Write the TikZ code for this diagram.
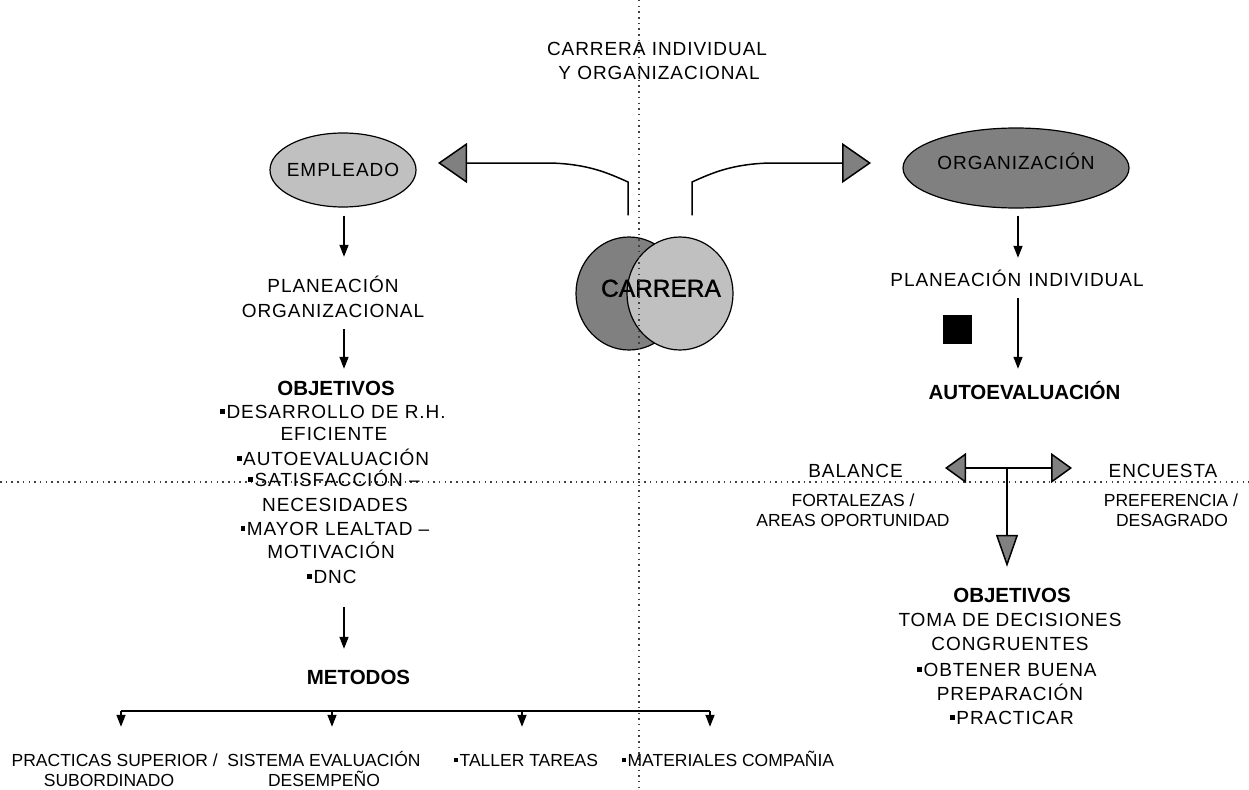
\documentclass[tikz,border=0pt]{standalone}
\usepackage{fontspec}
\setmainfont{Liberation Sans}[LetterSpace=5]
\newfontfamily\plainsans{Liberation Sans}
\newfontfamily\heavysans{Liberation Sans}[FakeBold=1.2]
\usetikzlibrary{arrows.meta,shapes.geometric}

\definecolor{grisoscuro}{HTML}{808080}
\definecolor{grisclaro}{HTML}{C0C0C0}

\newcommand\fmain{\fontsize{19}{23}\selectfont}
\newcommand\fbold{\plainsans\bfseries\fontsize{20.5}{24}\selectfont}
\newcommand\fsmall{\plainsans\fontsize{17.5}{20}\selectfont}
\newcommand\fbig{\heavysans\fontsize{24.5}{28}\selectfont}
% small square bullet
\newcommand\cuad{\rule[4.5pt]{4.7pt}{4.7pt}\hspace{1.5pt}}
\newcommand\cuadp{\rule[4pt]{4.2pt}{4.2pt}\hspace{1.5pt}}

\tikzset{
  txt/.style={font=\fmain, inner sep=0pt, text height=13.6pt, text depth=0pt, anchor=base},
  bld/.style={font=\fbold, inner sep=0pt, text height=14.7pt, text depth=0pt, anchor=base},
  sml/.style={font=\fsmall, inner sep=0pt, text height=12.5pt, text depth=0pt, anchor=base},
  big/.style={font=\fbig, inner sep=0pt, text height=17.5pt, text depth=0pt},
  blob/.style={ellipse, draw, line width=1.2pt, inner sep=0pt},
  link/.style={line width=1.5pt, -{Triangle[width=9pt,length=12pt]}},
  bar/.style={line width=1.5pt},
  bigtip/.style={line width=1.5pt, -{Triangle[width=40pt,length=29pt,fill=grisoscuro]}},
  midtip/.style={line width=1.5pt, -{Triangle[width=30pt,length=21pt,fill=grisoscuro]}},
  downtip/.style={line width=1.5pt, -{Triangle[width=22pt,length=32pt,fill=grisoscuro]}},
  dotline/.style={line width=1.5pt, black!75, dash pattern=on 1.5pt off 4.2pt},
}

\begin{document}
\begin{tikzpicture}[x=1pt, y=-1pt]
\fill[white] (0,0) rectangle (1249,789);
\useasboundingbox (0,0) rectangle (1249,789);

% title
\node[txt] (tit1) at (657,55.8) {CARRERA INDIVIDUAL};
\node[txt] (tit2) at (659,79.3) {Y ORGANIZACIONAL};

% central circles
\node[blob, fill=grisoscuro, minimum width=106pt, minimum height=113pt] (cizq) at (629,293.5) {};
\node[blob, fill=grisclaro, minimum width=106pt, minimum height=113pt] (cder) at (680,293.5) {};
\node[big] (carr) at (661,288) {CARRERA};

% ellipses
\node[blob, fill=grisclaro, minimum width=146pt, minimum height=74pt] (emp) at (343,170) {};
\node[txt, anchor=center] (empT) at (emp) {EMPLEADO};
\node[blob, fill=grisoscuro, minimum width=226pt, minimum height=80pt] (org) at (1016,168) {};
\node[txt, anchor=base] (orgT) at (1016,169) {ORGANIZACIÓN};

% separator lines
\draw[dotline] (639,0) -- (639,789);
\draw[dotline] (0,482) -- (1249,482);

% branches from the circles
\coordinate (tipEmp) at (438,163);
\coordinate (tipOrg) at (871,163);
\draw[bigtip] ([xshift=-1pt,yshift=21pt]cizq.north) -- (628,182)
  .. controls (608,173) and (588,164) .. (550,163) -- (tipEmp);
\draw[bigtip] ([xshift=12pt,yshift=21pt]cder.north) -- (692,182)
  .. controls (712,173) and (732,164) .. (770,163) -- (tipOrg);

% left column
\coordinate (ejeI) at ([xshift=1pt]emp.south);
\node[txt] (pla1) at (333,292.3) {PLANEACIÓN};
\node[txt] (pla2) at (333,317.5) {ORGANIZACIONAL};
\node[bld] (obj1) at (336,395.5) {OBJETIVOS};
\node[txt] (o1) at (333,418.5) {\cuad DESARROLLO DE R.H.};
\node[txt] (o2) at (334,440.1) {EFICIENTE};
\node[txt] (o3) at (333,465.1) {\cuad AUTOEVALUACIÓN};
\node[txt] (o4) at (334,486.1) {\cuad SATISFACCIÓN –};
\node[txt] (o5) at (335,511.8) {NECESIDADES};
\node[txt] (o6) at (335,535.1) {\cuad MAYOR LEALTAD –};
\node[txt] (o7) at (331,558.5) {MOTIVACIÓN};
\node[txt] (o8) at (332,583.5) {\cuad DNC};
\node[bld] (met) at (358.5,684.5) {METODOS};

\draw[link, shorten <=8pt, shorten >=21.7pt] (ejeI) -- (ejeI |- pla1.north);
\draw[link, shorten <=11.5pt, shorten >=11.8pt] (pla2.south -| ejeI) -- (obj1.north -| ejeI);
\draw[link, shorten <=23.5pt, shorten >=20.8pt] (o8.south -| ejeI) -- (met.north -| ejeI);

% methods
\node[sml, anchor=base east] (m1a) at (218,766.3) {PRACTICAS SUPERIOR /};
\node[sml] (m1b) at (109,786.3) {SUBORDINADO};
\node[sml] (m2a) at (324,766.3) {SISTEMA EVALUACIÓN};
\node[sml] (m2b) at (324,786.3) {DESEMPEÑO};
\node[sml] (m3) at (526,766.3) {\cuadp TALLER TAREAS};
\node[sml] (m4) at (728,766.3) {\cuadp MATERIALES COMPAÑIA};

\coordinate (b1) at (121,711);
\coordinate (b2) at (332,711);
\coordinate (b3) at (522,711);
\coordinate (b4) at (710,711);
\draw[bar] (b1) -- (b4);
\foreach \b in {b1,b2,b3,b4}
  \draw[link, shorten >=26.8pt] (\b) -- (\b |- m2a.north);

% right column
\coordinate (ejeD) at ([xshift=2pt]org.south);
\node[txt] (pli) at (1017,286.8) {PLANEACIÓN\hspace{7pt}INDIVIDUAL};
\node[fill=black, minimum size=29pt, inner sep=0pt] (cuadro) at (957.5,329.5) {};
\node[bld] (aut) at (1024.5,399.5) {AUTOEVALUACIÓN};
\draw[link, shorten <=7pt, shorten >=15.2pt] (ejeD) -- (ejeD |- pli.north);
\draw[link, shorten <=11.2pt, shorten >=15.8pt] (pli.south -| ejeD) -- (aut.north -| ejeD);

% balance / encuesta
\node[txt] (bal) at (855.5,477.8) {BALANCE};
\node[txt] (enc) at (1163,477.8) {ENCUESTA};
\node[sml] (fo1) at (853,506.3) {FORTALEZAS /};
\node[sml] (fo2) at (853,526.3) {AREAS OPORTUNIDAD};
\node[sml] (pr1) at (1171,506.3) {PREFERENCIA /};
\node[sml] (pr2) at (1172,526.3) {DESAGRADO};

\node[bld] (objD) at (1012,602.2) {OBJETIVOS};
\node[txt] (r1) at (1010,626.8) {TOMA DE DECISIONES};
\node[txt] (r2) at (1010,650.1) {CONGRUENTES};
\node[txt] (r3) at (1007,676.1) {\cuad OBTENER BUENA};
\node[txt] (r4) at (1010,700.1) {PREPARACIÓN};
\node[txt] (r5) at (1012,724.1) {\cuad PRACTICAR};

\coordinate (tj) at (1007,468);
\coordinate (tipBal) at (945,468);
\coordinate (tipEnc) at (1072,468);
\draw[midtip] (tj) -- (tipBal);
\draw[midtip] (tj) -- (tipEnc);
\draw[downtip, shorten >=20.5pt] (tj) -- (tj |- objD.north);

\end{tikzpicture}
\end{document}
